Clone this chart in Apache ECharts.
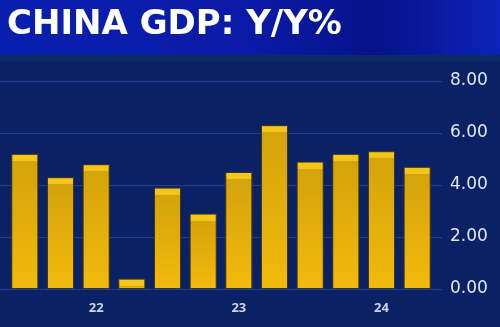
<!DOCTYPE html>
<html>
<head>
<meta charset="utf-8">
<script src="https://cdn.jsdelivr.net/npm/echarts@6/dist/echarts.min.js"></script>
<style>
  html, body { margin: 0; padding: 0; background: #0a2265; }
  #chart { width: 500px; height: 327px; }
</style>
</head>
<body>
<div id="chart"></div>
<script>
const quarters = ['3Q21', '4Q21', '1Q22', '2Q22', '3Q22', '4Q22', '1Q23', '2Q23', '3Q23', '4Q23', '1Q24', '2Q24'];
const gdpYoY = [5.2, 4.3, 4.8, 0.4, 3.9, 2.9, 4.5, 6.3, 4.9, 5.2, 5.3, 4.7];
const tickLabels = ['', '', '22', '', '', '', '23', '', '', '', '24', ''];

const myChart = echarts.init(document.getElementById('chart'));

// bright strip of ~7px on top of each bar, rest is a darker gold fading lighter down
const barColor = (v) => {
    const f = Math.min(7 / (v * 26), 0.9);
    return new echarts.graphic.LinearGradient(0, 0, 0, 1, [
        { offset: 0, color: '#f6c81c' },
        { offset: f, color: '#f3c417' },
        { offset: f + 0.001, color: '#d5a30b' },
        { offset: 1, color: '#f2ba0c' }
    ]);
};

const option = {
    backgroundColor: '#0a2265',
    animation: false,
    graphic: [
        {
            type: 'rect', left: 0, top: 0, z: -1,
            shape: { width: 500, height: 55 },
            style: {
                fill: new echarts.graphic.LinearGradient(0, 0, 1, 0, [
                    { offset: 0, color: '#0a1fb0' },
                    { offset: 0.5, color: '#0b1aa6' },
                    { offset: 0.75, color: '#06128a' },
                    { offset: 1, color: '#0d22b8' }
                ])
            }
        },
        {
            type: 'rect', left: 0, top: 55, z: -1,
            shape: { width: 500, height: 6 },
            style: { fill: '#0b2a66' }
        },
        {
            type: 'text', left: 7, top: 8,
            style: {
                text: 'CHINA GDP: Y/Y%',
                fill: '#ffffff',
                font: 'bold 34px "DejaVu Sans"'
            }
        }
    ],
    grid: [
        { left: 0, right: 58, top: 81, bottom: 38 },
        { left: 7, right: 65, top: 81, bottom: 38 }
    ],
    xAxis: [
        { gridIndex: 0, type: 'category', data: quarters, show: false },
        {
            gridIndex: 1,
            type: 'category',
            data: quarters,
            axisLine: { show: false },
            axisTick: { show: false },
            axisLabel: {
                interval: 0,
                margin: 13,
                color: '#cdd3e3',
                fontSize: 13,
                fontWeight: 'bold',
                fontFamily: 'Open Sans',
                formatter: (val, i) => tickLabels[i]
            }
        }
    ],
    yAxis: [
        {
            gridIndex: 0,
            type: 'value',
            position: 'right',
            min: 0,
            max: 8,
            interval: 2,
            axisLine: { show: false },
            axisTick: { show: false },
            splitLine: { lineStyle: { color: '#1f3f8e', width: 1 } },
            axisLabel: {
                margin: 8,
                color: '#e3e7f1',
                fontSize: 17,
                fontFamily: 'DejaVu Sans',
                formatter: (v) => v.toFixed(2)
            }
        },
        { gridIndex: 1, type: 'value', min: 0, max: 8, interval: 2, show: false }
    ],
    series: [{
        type: 'bar',
        xAxisIndex: 1,
        yAxisIndex: 1,
        barCategoryGap: '24%',
        data: gdpYoY.map((v) => ({
            value: v,
            itemStyle: { color: barColor(v), borderColor: '#3b3416', borderWidth: 1 }
        }))
    }]
};

myChart.setOption(option);
</script>
</body>
</html>
